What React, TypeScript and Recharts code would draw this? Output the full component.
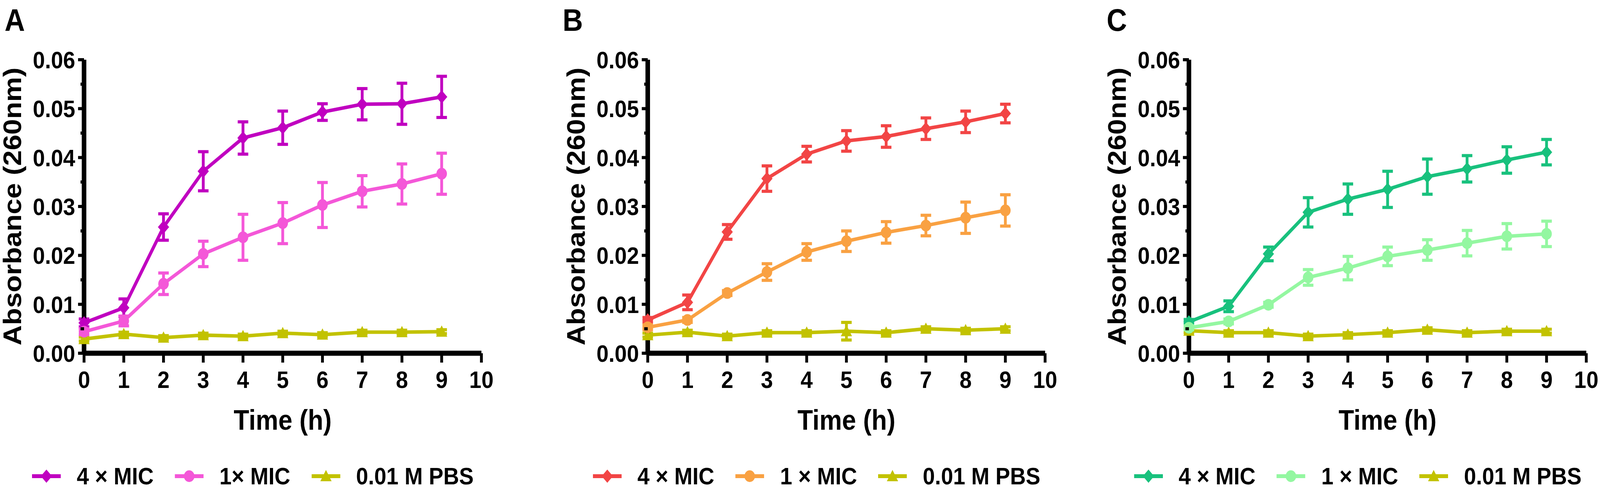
import React from 'react';
import { LineChart, Line, XAxis, YAxis, ErrorBar, Legend } from 'recharts';

const FONT = "'Liberation Sans', Arial, Helvetica, sans-serif";

// ---- data ----
const TIME_H = [0, 1, 2, 3, 4, 5, 6, 7, 8, 9];
const X_TICKS = [0, 1, 2, 3, 4, 5, 6, 7, 8, 9, 10];
const Y_MAJOR = [0, 0.01, 0.02, 0.03, 0.04, 0.05, 0.06];
const Y_MINOR = [0.005, 0.015, 0.025, 0.035, 0.045, 0.055];

// Panel A
const A_HI = [0.0062, 0.0093, 0.0258, 0.0372, 0.044, 0.0461, 0.0493, 0.0509, 0.051, 0.0524];
const A_HI_ERR = [0.0008, 0.0018, 0.0027, 0.004, 0.0033, 0.0034, 0.0017, 0.0032, 0.0042, 0.0042];
const A_LO = [0.0044, 0.0066, 0.0142, 0.0203, 0.0237, 0.0266, 0.0303, 0.0331, 0.0346, 0.0367];
const A_LO_ERR = [0.0006, 0.001, 0.0022, 0.0026, 0.0047, 0.0042, 0.0046, 0.0032, 0.0041, 0.0042];
const A_PBS = [0.0029, 0.0039, 0.0032, 0.0037, 0.0035, 0.0041, 0.0038, 0.0043, 0.0043, 0.0044];
const A_PBS_ERR = [0.0004, 0.0004, 0.0004, 0.0004, 0.0004, 0.0004, 0.0004, 0.0004, 0.0004, 0.0004];
const A_NAMES = ['4 × MIC', '1× MIC', '0.01 M PBS'];

// Panel B
const B_HI = [0.0068, 0.0104, 0.0248, 0.0357, 0.0407, 0.0434, 0.0443, 0.0459, 0.0473, 0.049];
const B_HI_ERR = [0.0005, 0.0015, 0.0015, 0.0026, 0.0016, 0.0021, 0.0022, 0.0022, 0.0022, 0.0019];
const B_LO = [0.0053, 0.0068, 0.0123, 0.0166, 0.0207, 0.0229, 0.0247, 0.0261, 0.0277, 0.0292];
const B_LO_ERR = [0.0005, 0.0005, 0.0005, 0.0017, 0.0017, 0.0021, 0.0022, 0.0021, 0.0032, 0.0032];
const B_PBS = [0.0037, 0.0043, 0.0035, 0.0042, 0.0042, 0.0045, 0.0042, 0.005, 0.0047, 0.005];
const B_PBS_ERR = [0.0004, 0.0004, 0.0004, 0.0004, 0.0004, 0.0018, 0.0004, 0.0004, 0.0004, 0.0004];
const B_NAMES = ['4 × MIC', '1 × MIC', '0.01 M PBS'];

// Panel C
const C_HI = [0.0064, 0.0096, 0.0203, 0.0288, 0.0315, 0.0335, 0.0361, 0.0377, 0.0395, 0.0411];
const C_HI_ERR = [0.0005, 0.0011, 0.0014, 0.003, 0.0031, 0.0037, 0.0036, 0.0027, 0.0027, 0.0026];
const C_LO = [0.0052, 0.0065, 0.0099, 0.0155, 0.0174, 0.0198, 0.0211, 0.0225, 0.0239, 0.0244];
const C_LO_ERR = [0.0004, 0.0005, 0.0005, 0.0016, 0.0024, 0.0019, 0.0021, 0.0026, 0.0026, 0.0026];
const C_PBS = [0.0046, 0.0042, 0.0042, 0.0035, 0.0038, 0.0042, 0.0048, 0.0042, 0.0045, 0.0045];
const C_PBS_ERR = [0.0004, 0.0004, 0.0004, 0.0004, 0.0004, 0.0004, 0.0004, 0.0004, 0.0004, 0.0004];
const C_NAMES = ['4 × MIC', '1 × MIC', '0.01 M PBS'];

// ---- layout ----
const W_PAGE = 4550;
const H_PAGE = 1258;
const MAX_SHOT_W = 4096;
const PLOT_W = 1130;
const PLOT_TOP = 153;
const PLOT_BOTTOM = 905;
const YAXIS_W = 410;
const XAXIS_H = 250;
const RIGHT = 40;
const CHART_W = YAXIS_W + PLOT_W + RIGHT;

const buildRows = (hi, hiErr, lo, loErr, pbs, pbsErr) =>
  TIME_H.map((t, i) => ({
    t,
    hi: hi[i],
    hiErr: hiErr[i],
    lo: lo[i],
    loErr: loErr[i],
    pbs: pbs[i],
    pbsErr: pbsErr[i],
  }));

const PANELS = [
  {
    letter: 'A',
    letterX: 13,
    x0: 239,
    names: A_NAMES,
    colors: { hi: '#C000C0', lo: '#F457D8', pbs: '#C2C200' },
    rows: buildRows(A_HI, A_HI_ERR, A_LO, A_LO_ERR, A_PBS, A_PBS_ERR),
  },
  {
    letter: 'B',
    letterX: 1600,
    x0: 1842,
    names: B_NAMES,
    colors: { hi: '#F24545', lo: '#F9A142', pbs: '#C2C200' },
    rows: buildRows(B_HI, B_HI_ERR, B_LO, B_LO_ERR, B_PBS, B_PBS_ERR),
  },
  {
    letter: 'C',
    letterX: 3147,
    x0: 3381,
    names: C_NAMES,
    colors: { hi: '#18C17D', lo: '#94F7A1', pbs: '#C2C200' },
    rows: buildRows(C_HI, C_HI_ERR, C_LO, C_LO_ERR, C_PBS, C_PBS_ERR),
  },
];

const SHAPES = { hi: 'diamond', lo: 'circle', pbs: 'triangle' };

function markerEl(shape, cx, cy, color, key) {
  if (shape === 'circle') {
    return <circle key={key} cx={cx} cy={cy} r={15} fill={color} />;
  }
  if (shape === 'diamond') {
    const d = `M${cx},${cy - 17} L${cx + 16},${cy} L${cx},${cy + 17} L${cx - 16},${cy} Z`;
    return <path key={key} d={d} fill={color} />;
  }
  const d = `M${cx},${cy - 16} L${cx + 16},${cy + 13} L${cx - 16},${cy + 13} Z`;
  return <path key={key} d={d} fill={color} />;
}

const makeDot = (shape, color) => (p) => {
  const { cx, cy, index } = p;
  if (cx == null || cy == null) return <g key={`e-${shape}-${index}`} />;
  return markerEl(shape, cx, cy, color, `m-${shape}-${index}`);
};

const isMajor = (v) => Y_MAJOR.some((m) => Math.abs(m - v) < 1e-9);
const Y_TICKS = [...Y_MAJOR, ...Y_MINOR].sort((a, b) => a - b);

const YTick = (props) => {
  const { x, y, payload } = props;
  const major = isMajor(payload.value);
  return (
    <g>
      <line x1={x - (major ? 17 : 10)} x2={x} y1={y} y2={y} stroke="#000" strokeWidth={8} />
      {major && (
        <text
          x={x - 25}
          y={y}
          dy={22}
          textAnchor="end"
          fontFamily={FONT}
          fontWeight={700}
          fontSize={62}
          fill="#000"
        >
          {payload.value.toFixed(2)}
        </text>
      )}
    </g>
  );
};

const XTick = (props) => {
  const { x, y, payload } = props;
  return (
    <g>
      <line x1={x} x2={x} y1={y} y2={y + 24} stroke="#000" strokeWidth={8} />
      <text
        x={x}
        y={y + 89}
        textAnchor="middle"
        fontFamily={FONT}
        fontWeight={700}
        fontSize={62}
        fill="#000"
      >
        {payload.value}
      </text>
    </g>
  );
};

const LEGEND_ORDER = ['hi', 'lo', 'pbs'];

const renderLegend = (props) => {
  const payload = props.payload || [];
  const items = LEGEND_ORDER.map((k) => payload.find((p) => p.dataKey === k)).filter(Boolean);
  return (
    <div
      style={{
        display: 'flex',
        justifyContent: 'center',
        alignItems: 'center',
        height: 70,
        gap: 60,
      }}
    >
      {items.map((it) => (
        <div key={String(it.dataKey)} style={{ display: 'flex', alignItems: 'center' }}>
          <svg width={82} height={70} style={{ display: 'block' }}>
            <line x1={0} x2={82} y1={35} y2={35} stroke={it.color} strokeWidth={10} />
            {markerEl(SHAPES[it.dataKey], 41, 35, it.color, 'lg')}
          </svg>
          <span
            style={{
              marginLeft: 45,
              fontFamily: FONT,
              fontWeight: 700,
              fontSize: 62,
              lineHeight: '70px',
              color: '#000',
              whiteSpace: 'nowrap',
            }}
          >
            {it.value}
          </span>
        </div>
      ))}
    </div>
  );
};

function Panel({ panel }) {
  const { x0, rows, colors, names } = panel;
  const left = x0 - YAXIS_W;
  const axisLine = { stroke: '#000', strokeWidth: 13 };
  const series = [
    { key: 'pbs', name: names[2] },
    { key: 'hi', name: names[0] },
    { key: 'lo', name: names[1] },
  ];
  return (
    <div style={{ position: 'absolute', left, top: 0 }}>
      <LineChart
        width={CHART_W}
        height={H_PAGE}
        data={rows}
        margin={{ top: PLOT_TOP, right: RIGHT, left: 0, bottom: H_PAGE - PLOT_BOTTOM - XAXIS_H }}
      >
        <XAxis
          dataKey="t"
          type="number"
          domain={[0, 10]}
          ticks={X_TICKS}
          interval={0}
          tickSize={0}
          tickMargin={0}
          tickLine={false}
          axisLine={axisLine}
          height={XAXIS_H}
          tick={XTick}
          label={{
            value: 'Time (h)',
            position: 'insideBottom',
            offset: 54,
            fill: '#000',
            fontSize: 72,
            fontWeight: 700,
            fontFamily: FONT,
          }}
        />
        <YAxis
          type="number"
          domain={[0, 0.06]}
          ticks={Y_TICKS}
          interval={0}
          tickSize={0}
          tickMargin={0}
          tickLine={false}
          axisLine={axisLine}
          width={YAXIS_W}
          tick={YTick}
          label={{
            value: 'Absorbance (260nm)',
            angle: -90,
            position: 'center',
            fill: '#000',
            fontSize: 72,
            fontWeight: 700,
            fontFamily: FONT,
          }}
        />
        <Legend
          layout="horizontal"
          verticalAlign="middle"
          align="center"
          content={renderLegend}
          wrapperStyle={{ left: YAXIS_W - 170, top: 1185, width: 1300, height: 70 }}
        />
        {series.map((s) => (
          <Line
            key={s.key}
            type="linear"
            dataKey={s.key}
            name={s.name}
            stroke={colors[s.key]}
            strokeWidth={9}
            dot={makeDot(SHAPES[s.key], colors[s.key])}
            activeDot={false}
            isAnimationActive={false}
          >
            <ErrorBar
              dataKey={`${s.key}Err`}
              direction="y"
              width={15}
              strokeWidth={8}
              stroke={colors[s.key]}
              isAnimationActive={false}
            />
          </Line>
        ))}
      </LineChart>
    </div>
  );
}

export default function App() {
  const vw = typeof window !== 'undefined' && window.innerWidth ? window.innerWidth : W_PAGE;
  const targetW = Math.min(vw, MAX_SHOT_W, W_PAGE);
  const sx = targetW / W_PAGE;
  return (
    <div
      style={{
        position: 'absolute',
        left: 0,
        top: 0,
        width: targetW,
        height: H_PAGE,
        overflow: 'hidden',
        background: '#fff',
      }}
    >
      <div
        style={{
          position: 'absolute',
          left: 0,
          top: 0,
          width: W_PAGE,
          height: H_PAGE,
          transform: `scale(${sx}, 1)`,
          transformOrigin: '0 0',
        }}
      >
        {PANELS.map((p) => (
          <Panel key={p.letter} panel={p} />
        ))}
        {PANELS.map((p) => (
          <div
            key={`lbl-${p.letter}`}
            style={{
              position: 'absolute',
              left: p.letterX,
              top: 12,
              fontFamily: FONT,
              fontWeight: 700,
              fontSize: 80,
              lineHeight: '80px',
              color: '#000',
            }}
          >
            {p.letter}
          </div>
        ))}
      </div>
    </div>
  );
}
